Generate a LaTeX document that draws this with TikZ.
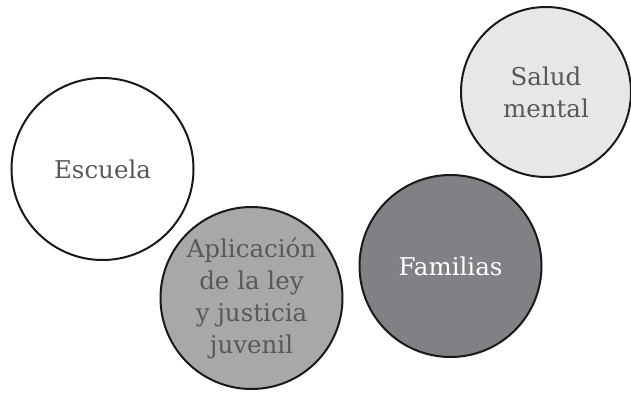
\documentclass[tikz,border=0pt]{standalone}
\usepackage{fontspec}
\setmainfont{DejaVu Serif}
\usepackage{tikz}

\definecolor{txtgray}{HTML}{58595B}
\definecolor{lightfill}{HTML}{E6E7E8}
\definecolor{midfill}{HTML}{A7A8AA}
\definecolor{darkfill}{HTML}{808184}

\begin{document}
\begin{tikzpicture}[x=1pt,y=1pt]
    \tikzstyle{area}=[circle, draw=black!90, line width=2pt, minimum size=182pt, inner sep=0pt,
      align=center, text=txtgray, font=\fontsize{24.5}{32}\selectfont]
    \useasboundingbox (0,0) rectangle (631,392);
    \node[area, fill=white] (escuela) at (102.5,223) {Escuela};
    \node[area, fill=midfill] (ley) at (251.5,94) {Aplicación\\de la ley\\y justicia\\juvenil};
    \node[area, fill=darkfill, text=white] (familias) at (450.5,126) {Familias};
    \node[area, fill=lightfill, minimum size=170pt] (salud) at (546,300) {Salud\\mental};
\end{tikzpicture}
\end{document}
